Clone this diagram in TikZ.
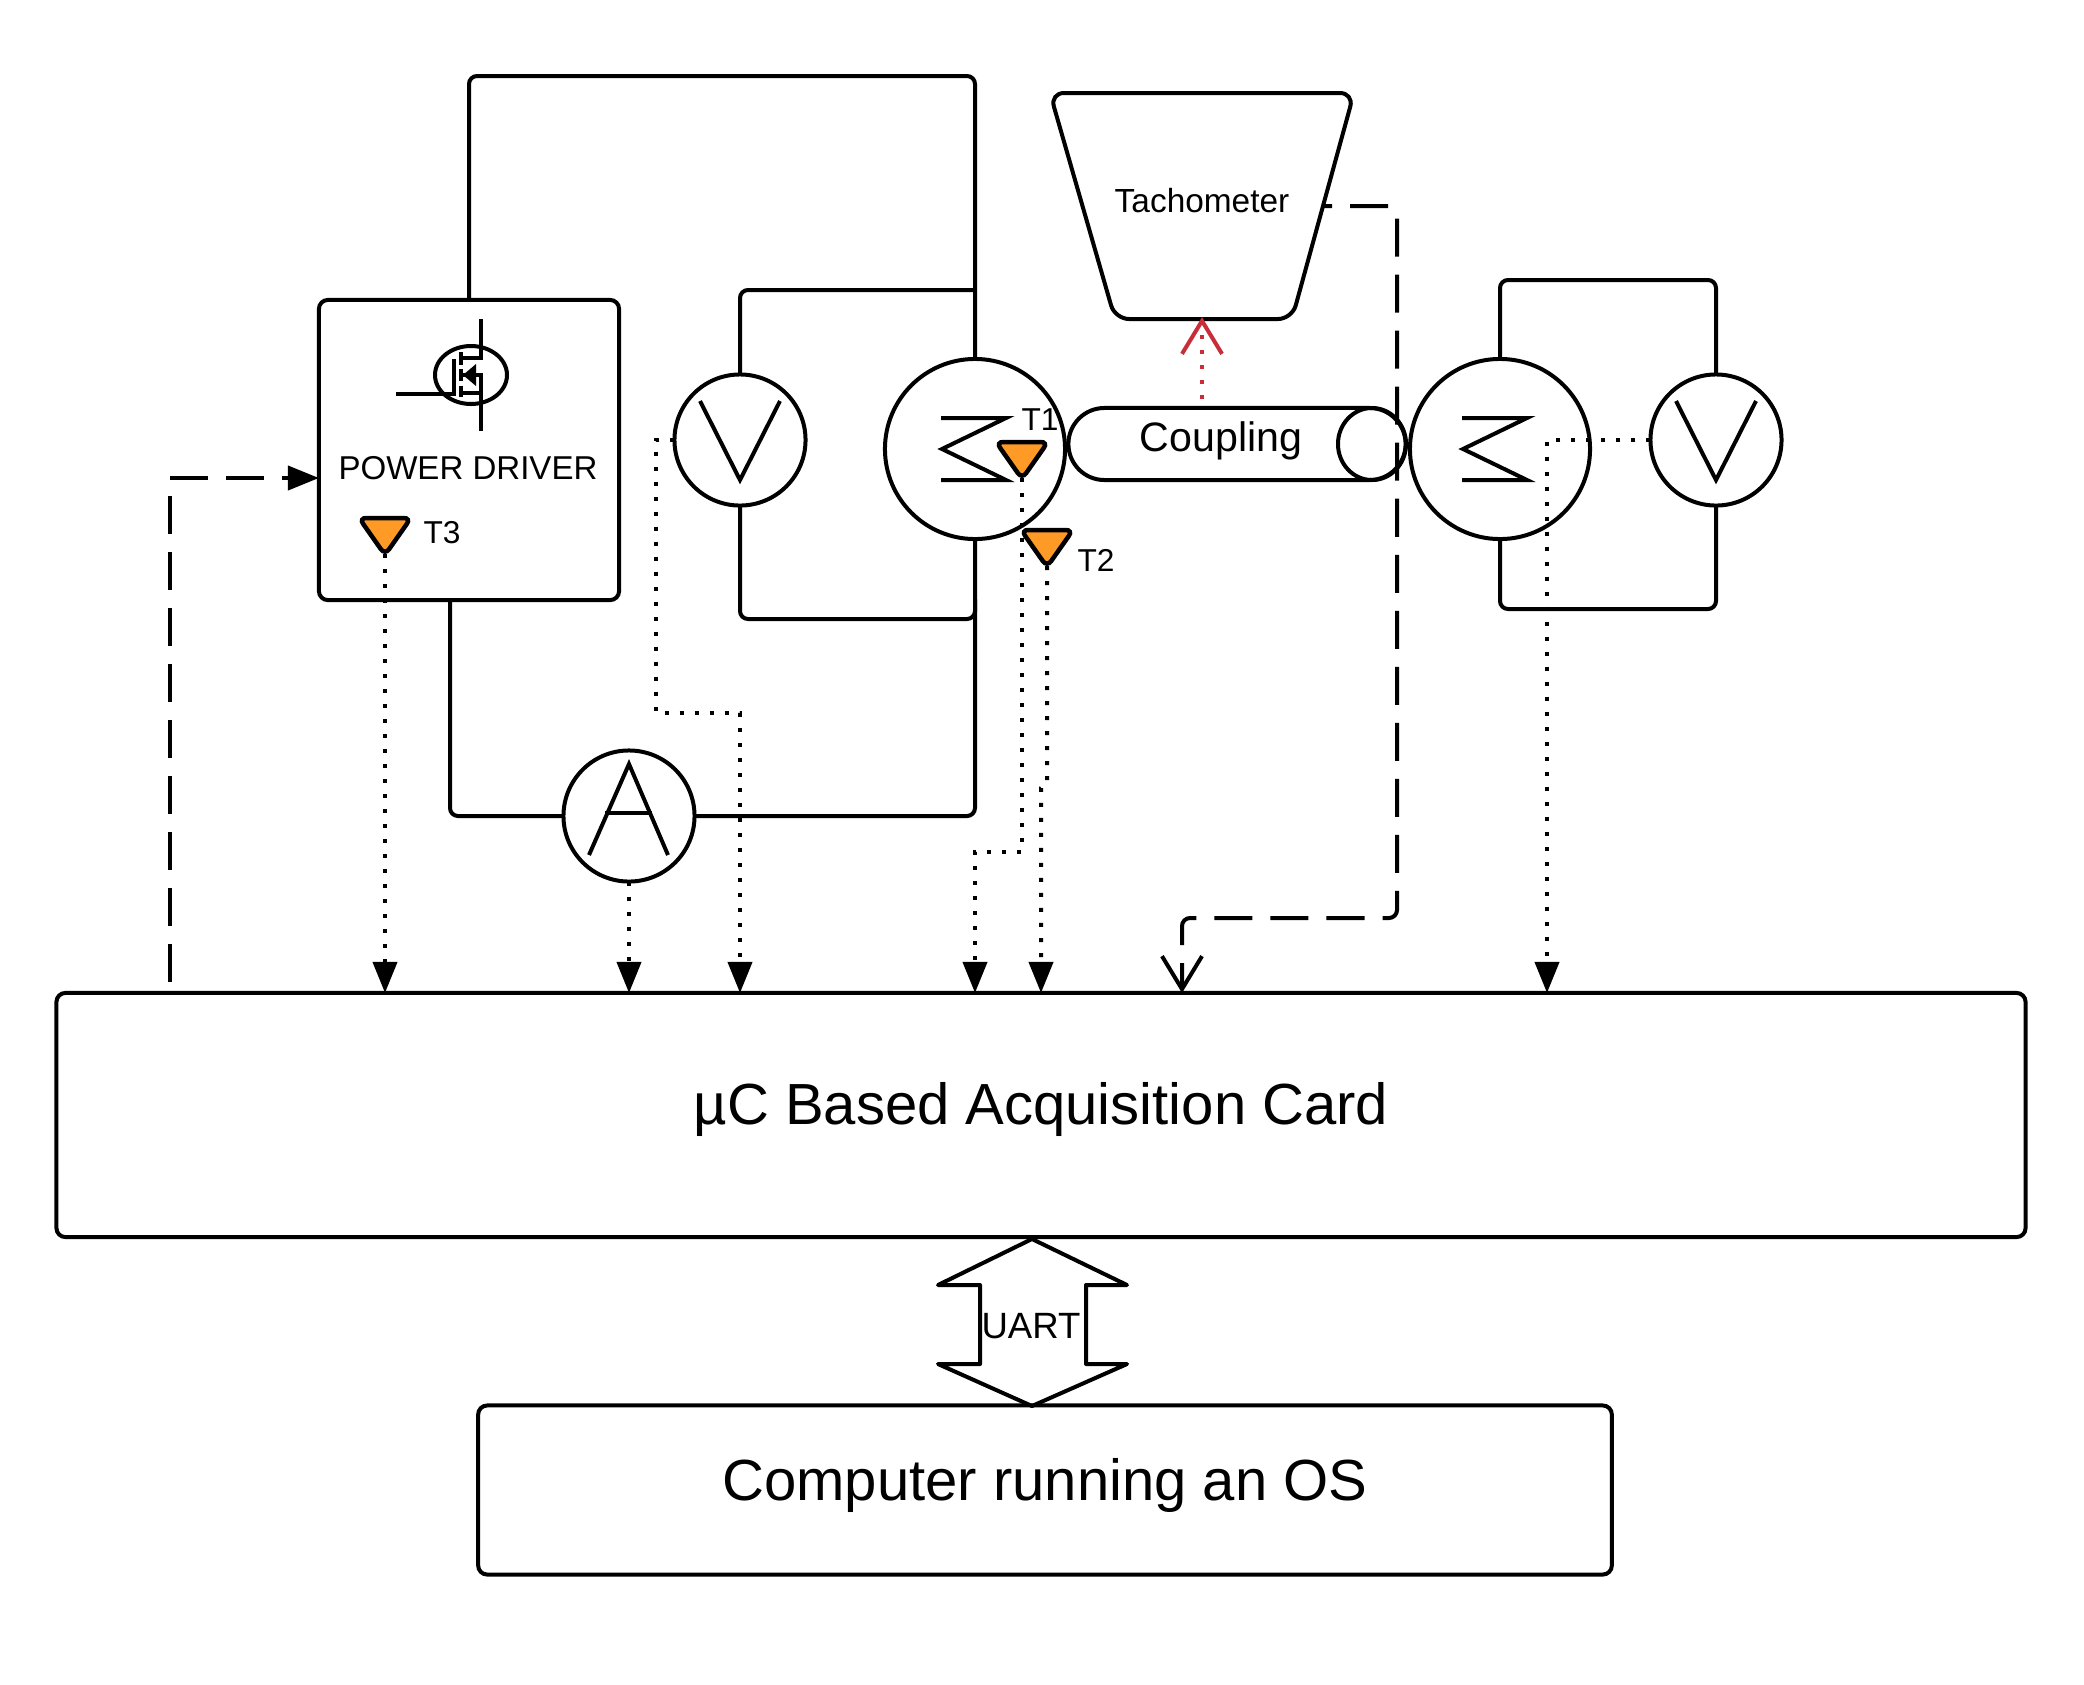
\documentclass[tikz,border=0pt]{standalone}
\usepackage{fontspec}
\setmainfont{Liberation Sans}
\usetikzlibrary{arrows.meta,positioning,calc,shapes.geometric}

\definecolor{sensorfill}{HTML}{FF9A26}
\definecolor{tachred}{HTML}{C92D39}

\tikzset{
  wire/.style={line width=0.04cm,rounded corners=0.08cm},
  box/.style={draw,line width=0.04cm,rounded corners=0.09cm,inner sep=0pt,outer sep=0pt},
  machine/.style={draw,circle,line width=0.04cm,minimum size=1.80cm,inner sep=0pt,outer sep=0pt},
  meter/.style={draw,circle,line width=0.04cm,minimum size=1.31cm,inner sep=0pt,outer sep=0pt},
  sense/.style={line width=0.04cm,dash pattern=on 0.04cm off 0.11cm},
  longdash/.style={line width=0.04cm,dash pattern=on 0.38cm off 0.18cm},
  solidhead/.style={-{Triangle[length=0.31cm,width=0.24cm]}},
  openhead/.style={-{Straight Barb[length=0.33cm,width=0.40cm,line width=0.04cm]}},
  sensor/.style={draw,fill=sensorfill,line width=0.045cm,rounded corners=0.07cm},
  txt/.style={inner sep=0pt,font=\fontsize{#1}{#1}\selectfont}
}

\begin{document}
\begin{tikzpicture}[x=0.01cm,y=-0.01cm]
  \useasboundingbox (0,0) rectangle (2084,1684);

  \node[box,minimum width=19.68cm,minimum height=2.44cm] (card) at (1041,1115) {};
  \node[box,minimum width=11.33cm,minimum height=1.69cm] (computer) at (1045,1490) {};
  \node[box,minimum width=3.00cm,minimum height=3.00cm] (driver) at (469,450) {};
  \node[txt=16.5] (cardtext) at (1041,1109) {µC Based Acquisition Card};
  \node[txt=16.5] (computertext) at (1045,1485) {Computer running an OS};
  \node[txt=9.4] (drivertext) at (468,468) {POWER DRIVER};

  % machines and meters
  \node[machine] (m1) at (975,449) {};
  \node[machine] (m2) at (1500,449) {};
  \node[meter] (v1) at (740,440) {};
  \node[meter] (v2) at (1716,440) {};
  \node[meter] (amp) at (629,816) {};
  \draw[line width=0.04cm] (941,418) -- (1006,418) -- (942,449) -- (1006,480) -- (941,480);
  \draw[line width=0.04cm] (1462,418) -- (1527,418) -- (1463,449) -- (1527,480) -- (1462,480);
  \draw[line width=0.04cm] (700,401) -- (740,480) -- (780,401);
  \draw[line width=0.04cm] (1676,401) -- (1716,480) -- (1756,401);
  \draw[line width=0.04cm] (589,855) -- (629,764) -- (668,855);
  \draw[line width=0.04cm] (605,813) -- (652,813);

  % power wiring
  \coordinate (looptop) at (700,76);
  \coordinate (fieldtop) at (850,290);
  \coordinate (fieldbot) at (850,619);
  \coordinate (rightop) at (1600,280);
  \coordinate (rightbot) at (1600,609);
  \coordinate (ampleft) at (450,816);
  \draw[wire] (driver.north) |- (looptop) -| (m1.north);
  \draw[wire] (v1.north) |- (fieldtop) -- (m1.north |- fieldtop);
  \draw[wire] (v1.south) |- (fieldbot) -- (m1.south |- fieldbot) -- ($(m1.south |- fieldbot)+(0,-20)$);
  \draw[wire] (m1.south) |- (amp.east);
  \draw[wire] (amp.west) -- (ampleft) -- (ampleft |- driver.south);
  \draw[wire] (m2.north) |- (rightop) -| (v2.north);
  \draw[wire] (m2.south) |- (rightbot) -| (v2.south);

  % mosfet
  \draw[line width=0.04cm] (471,375) ellipse (36 and 29);
  \draw[line width=0.04cm] (481,319) -- (481,358) -- (460,358);
  \draw[line width=0.04cm] (481,431) -- (481,393) -- (460,393);
  \draw[line width=0.04cm] (396,394) -- (454,394) -- (454,359);
  \draw[line width=0.04cm] (461,352) -- (461,365) (461,369) -- (461,381) (461,386) -- (461,397);
  \draw[line width=0.04cm] (461,375) -- (481,375) -- (481,393);
  \fill (463,375) -- (476,364) -- (476,386) -- cycle;

  % tachometer and coupling
  \draw[wire,rounded corners=0.14cm] (1050,93) -- (1354,93) -- (1292,319) -- (1115,319) -- cycle;
  \node[txt=9.5] (tachtext) at (1202,201) {Tachometer};
  \coordinate (tachbase) at (1202,317);
  \coordinate (tachout) at (1322,206);
  \node[box,rounded corners=0.36cm,minimum width=3.37cm,minimum height=0.72cm] (coupling) at (1237,444) {};
  \node[draw,ellipse,line width=0.04cm,minimum width=0.68cm,minimum height=0.72cm,inner sep=0pt,outer sep=0pt] (couplingend) at (1372,444) {};
  \node[txt=11.7] (couplingtext) at (1221,441) {Coupling};
  \draw[sense,openhead,tachred,shorten <=0.09cm] (tachbase |- coupling.north) -- (tachbase);

  % temperature sensors
  \foreach \name/\x/\y in {t1/1022/442,t2/1047/530,t3/385/518} {
    \draw[sensor] (\x-26,\y) -- (\x+26,\y) -- (\x,\y+37) -- cycle;
    \coordinate (\name) at (\x,\y+36);
  }
  \node[txt=9] (t1text) at (1040,420) {T1};
  \node[txt=9] (t2text) at (1096,560) {T2};
  \node[txt=9] (t3text) at (442,533) {T3};

  % dashed feedback
  \coordinate (tachturn) at (1397,918);
  \coordinate (tachin) at (1182,993);
  \coordinate (drvturn) at (170,478);
  \draw[longdash,dash phase=0.28cm,rounded corners=0.08cm,openhead] (tachout) -| (tachturn) -| (tachin);
  \draw[longdash,dash phase=0.45cm,solidhead] (drvturn |- card.north) -- (drvturn) -- (drvturn -| driver.west);

  % dotted signals
  \coordinate (v1turn) at (656,713);
  \coordinate (t1turn) at (1022,852);
  \coordinate (t2turn) at (1047,784);
  \coordinate (t2drop) at (1041,788);
  \coordinate (v2turn) at (1547,440);
  \draw[sense,solidhead] (t3) -- (t3 |- card.north);
  \draw[sense,solidhead] (amp.south) -- (amp.south |- card.north);
  \draw[sense,solidhead] (v1.west) -- (v1.west -| v1turn) -- (v1turn) -- (v1.south |- v1turn) -- (v1.south |- card.north);
  \draw[sense,solidhead] (t1) -- (t1turn) -- (m1.south |- t1turn) -- (m1.south |- card.north);
  \draw[sense,solidhead] (t2) -- (t2turn) -- (t2drop) -- (t2drop |- card.north);
  \draw[sense,solidhead] (v2.west) -- (v2turn) -- (v2turn |- card.north);

  % uart double arrow
  \draw[line width=0.04cm,line join=round] (1032,1239) -- (1127,1285) -- (1086,1285) -- (1086,1364) -- (1127,1364)
    -- (1032,1406) -- (938,1364) -- (980,1364) -- (980,1285) -- (938,1285) -- cycle;
  \node[txt=10.4] (uarttext) at (1031,1326) {UART};
\end{tikzpicture}
\end{document}
